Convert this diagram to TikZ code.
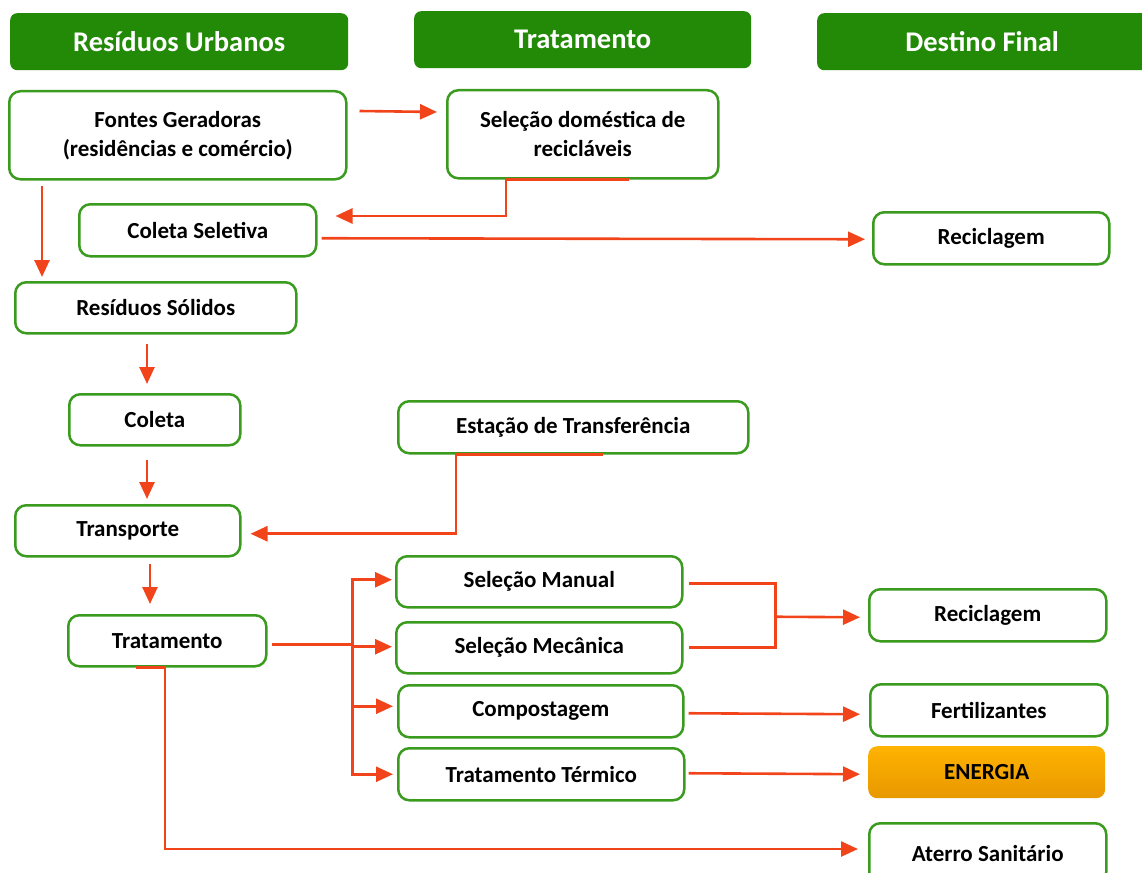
\documentclass[tikz,border=0pt]{standalone}
\usepackage{fontspec}
\setmainfont{Carlito}
\usetikzlibrary{arrows.meta,calc}
\definecolor{hdrgreen}{HTML}{238A08}
\definecolor{boxgreen}{HTML}{3A9B1F}
\definecolor{arrred}{HTML}{F2441A}
\definecolor{enetop}{HTML}{FFB300}
\definecolor{enebot}{HTML}{E89800}
\begin{document}
\begin{tikzpicture}[x={(1pt,0)},y={(0,-1pt)},
  hdr/.style={draw=none,fill=hdrgreen,rounded corners=7pt,anchor=north west,inner sep=0pt,
    text=white,font=\fontsize{28.5}{33}\selectfont\bfseries},
  box/.style={draw=boxgreen,line width=2.5pt,fill=white,rounded corners=11pt,anchor=north west,
    inner sep=0pt,align=center,font=\fontsize{23}{29}\selectfont\bfseries},
  enebox/.style={draw=none,rounded corners=9pt,anchor=north west,inner sep=0pt,
    top color=enetop,bottom color=enebot,font=\fontsize{23}{29}\selectfont\bfseries},
  ln/.style={draw=arrred,line width=2.6pt},
  arr/.style={ln,-{Triangle[length=17pt,width=15pt]}}]
\useasboundingbox (0,0) rectangle (1142,872);
% headers
\node[hdr,minimum width=338pt,minimum height=57pt] (h1) at (10,13) {Resíduos Urbanos};
\node[hdr,minimum width=337pt,minimum height=57pt] (h2) at (414,11) {Tratamento};
\node[hdr,minimum width=340pt,minimum height=57pt] (h3) at (817,13) {\hspace*{-10pt}Destino Final};
% boxes
\node[box,minimum width=337pt,minimum height=88pt] (fontes) at (8,90) {Fontes Geradoras\\(residências e comércio)};
\node[box,minimum width=271pt,minimum height=88pt] (seldom) at (446,89) {Seleção doméstica de\\recicláveis};
\node[box,minimum width=237pt,minimum height=52pt] (colsel) at (78,203) {Coleta Seletiva};
\node[box,minimum width=236pt,minimum height=52pt] (recic1) at (872,211) {Reciclagem};
\node[box,minimum width=281pt,minimum height=51pt] (ressol) at (14,281) {Resíduos Sólidos};
\node[box,minimum width=171pt,minimum height=51pt] (coleta) at (68,393) {Coleta};
\node[box,minimum width=350pt,minimum height=52pt] (estacao) at (397,400) {Estação de Transferência};
\node[box,minimum width=225pt,minimum height=51pt] (transp) at (14,504) {Transporte};
\node[box,minimum width=198pt,minimum height=51pt] (trat) at (67,614) {Tratamento};
\node[box,minimum width=286pt,minimum height=51pt] (selman) at (395,555) {Seleção Manual};
\node[box,minimum width=286pt,minimum height=51pt] (selmec) at (395,621) {Seleção Mecânica};
\node[box,minimum width=285pt,minimum height=52pt] (compost) at (397,684) {Compostagem};
\node[box,minimum width=286pt,minimum height=52pt] (termico) at (397,747) {Tratamento Térmico};
\node[box,minimum width=237pt,minimum height=52pt] (recic2) at (868,588) {Reciclagem};
\node[box,minimum width=237pt,minimum height=52pt] (fert) at (869,683) {Fertilizantes};
\node[enebox,minimum width=237pt,minimum height=52pt] (energia) at (868,746) {ENERGIA};
\node[box,minimum width=237pt,minimum height=60pt] (aterro) at (868,822) {\raisebox{-8pt}{Aterro Sanitário}};
% connectors
\draw[arr] ($(fontes.north east)+(12,21)$) -- ($(seldom.north west)+(-9,23)$);
\draw[arr] ($(seldom.south west)+(183,0)$) -- ($(seldom.south west)+(60,0)$) |- ($(colsel.north east)+(18,13)$);
\draw[arr] ($(colsel.east)+(4,8)$) -- ($(recic1.west)+(-7,1)$);
\draw[arr] ($(fontes.south west)+(34,5)$) -- ($(ressol.north west)+(28,-4)$);
\draw[arr] ($(ressol.south west)+(133,9)$) -- ($(coleta.north west)+(79,-9)$);
\draw[arr] ($(coleta.south west)+(79,13)$) -- ($(transp.north west)+(133,-5)$);
\draw[arr] ($(estacao.south west)+(206,0)$) -- ($(estacao.south west)+(59,0)$) |- ($(transp.east)+(9,3)$);
\draw[arr] ($(transp.south west)+(136,6)$) -- ($(trat.north west)+(83,-10)$);
\coordinate (bx) at ($(trat.east)+(85,4)$);
\draw[ln] ($(trat.east)+(4,4)$) -- (bx);
\draw[arr] (bx) |- ($(selman.west)+(-3,-2)$);
\draw[arr] (bx) |- ($(selmec.west)+(-3,-1)$);
\draw[arr] (bx) |- ($(compost.west)+(-4,-5)$);
\draw[arr] (bx) |- ($(termico.west)+(-4,0)$);
\coordinate (jn) at ($(selman.east)+(92,0)$);
\draw[ln] ($(selman.east)+(5,2)$) -| ($(jn)+(0,2)$) |- ($(selmec.east)+(5,0)$);
\draw[arr] ($(jn)+(0,35)$) -- ($(recic2.west)+(-8,2)$);
\draw[arr] ($(compost.east)+(4,2)$) -- ($(fert.west)+(-9,4)$);
\draw[arr] ($(termico.east)+(3,-1)$) -- ($(energia.west)+(-8,2)$);
\draw[arr] ($(trat.south west)+(69,0)$) -- ($(trat.south west)+(98,0)$) |- ($(aterro.north west)+(-10,27)$);
\end{tikzpicture}
\end{document}
